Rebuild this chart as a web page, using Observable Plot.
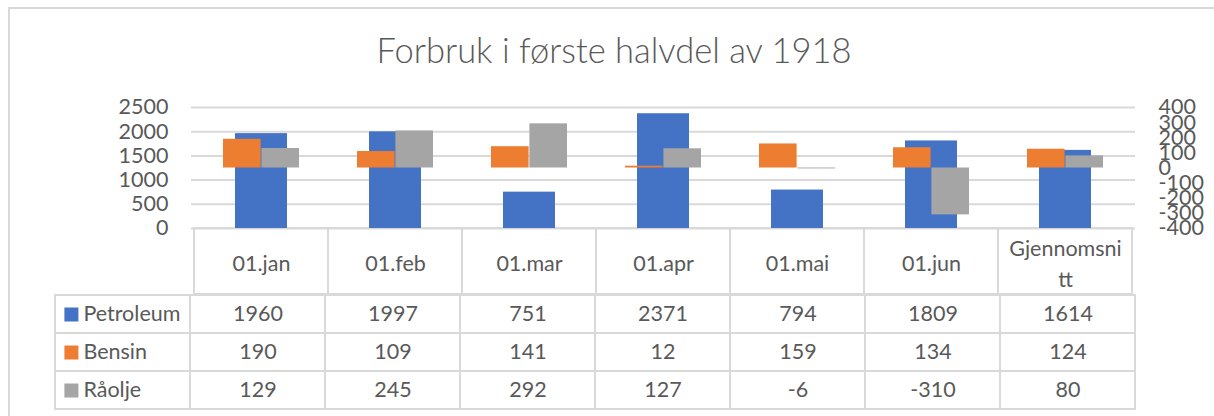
<!DOCTYPE html>
<html><head><meta charset="utf-8">
<script src="https://cdn.jsdelivr.net/npm/d3@7"></script>
<script src="https://cdn.jsdelivr.net/npm/@observablehq/plot@0.6"></script>
<style>
html,body{margin:0;padding:0;background:#fff;overflow:hidden;width:1214px;height:416px;}
#wrap{position:relative;width:1214px;height:416px;font-family:Lato,"Open Sans",sans-serif;color:#595959;}
#frame{position:absolute;left:8px;top:7px;width:1400px;height:600px;border:2px solid #d9d9d9;box-sizing:border-box;}
#title{position:absolute;left:0;width:1228px;top:33px;line-height:34px;text-align:center;font-size:34.5px;font-weight:300;white-space:nowrap;}
.layer{position:absolute;left:0;top:0;}
</style></head>
<body><div id="wrap"><div id="frame"></div><div id="title">Forbruk i første halvdel av 1918</div></div>
<script>
const categories = ["01.jan","01.feb","01.mar","01.apr","01.mai","01.jun","Gjennomsnitt"];
const headerLabels = ["01.jan","01.feb","01.mar","01.apr","01.mai","01.jun","Gjennomsni\ntt"];
const petroleum = [1960,1997,751,2371,794,1809,1614];
const bensin = [190,109,141,12,159,134,124];
const raolje = [129,245,292,127,-6,-310,80];
const seriesNames = ["Petroleum","Bensin","Råolje"];
const seriesColors = ["#4472C4","#ED7D31","#A5A5A5"];
const leftTicks = [0,500,1000,1500,2000,2500];
const rightTicks = [-400,-300,-200,-100,0,100,200,300,400];

const rows = categories.map((c,i)=>({cat:c, petroleum:petroleum[i], bensin:bensin[i], raolje:raolje[i]}));
const seriesValues = {"Petroleum":petroleum,"Bensin":bensin,"Råolje":raolje};
const cells = [];
for (const s of seriesNames) {
  cells.push({s, c:"legend", v:null});
  categories.forEach((c,i)=>cells.push({s, c, v:seriesValues[s][i]}));
}
const W = 1214, H = 416;
const baseStyle = {background:"transparent", fontFamily:"Lato, 'Open Sans', sans-serif", fontSize:"21.5px", color:"#595959", overflow:"visible"};
const wrap = document.getElementById("wrap");
function add(svg){ svg.classList.add("layer"); svg.style.position="absolute"; svg.style.left="0"; svg.style.top="0"; wrap.appendChild(svg); }

// header row of table
add(Plot.plot({
  width:W, height:H, marginTop:228, marginBottom:H-294, marginLeft:191, marginRight:W-1135,
  x:{domain:categories, padding:0, axis:null},
  style:baseStyle,
  marks:[
    Plot.cell(categories, {x:d=>d, fill:"white", stroke:"#d9d9d9", strokeWidth:2}),
    Plot.text(categories, {x:d=>d, text:(d,i)=>headerLabels[i], lineHeight:1.42, fill:"#595959"})
  ]
}));

// body of table
add(Plot.plot({
  width:W, height:H, marginTop:294, marginBottom:H-409, marginLeft:54, marginRight:W-1135,
  x:{domain:["legend", ...categories], padding:0, axis:null},
  y:{domain:seriesNames, padding:0, axis:null},
  color:{domain:seriesNames, range:seriesColors},
  style:baseStyle,
  marks:[
    Plot.cell(cells, {x:"c", y:"s", fill:"white", stroke:"#d9d9d9", strokeWidth:2}),
    Plot.text(cells.filter(d=>d.c!=="legend"), {x:"c", y:"s", text:d=>String(d.v), fill:"#595959"}),
    Plot.dot(seriesNames, {x:()=>"legend", y:d=>d, symbol:"square", r:7.9, fill:d=>d, dx:-51.6}),
    Plot.text(seriesNames, {x:()=>"legend", y:d=>d, text:d=>d, textAnchor:"start", dx:-39.6, fill:"#595959"})
  ]
}));

// primary axis: Petroleum
add(Plot.plot({
  width:W, height:240, marginTop:107, marginBottom:12, marginLeft:191, marginRight:W-1135,
  x:{domain:categories, padding:0, axis:null},
  y:{domain:[0,2500], axis:null, label:null},
  style:baseStyle,
  marks:[
    Plot.gridY(leftTicks, {stroke:"#d9d9d9", strokeOpacity:1, strokeWidth:2}),
    Plot.axisY(leftTicks, {tickSize:0, tickPadding:23, tickFormat:d=>String(d), fill:"#595959", label:null}),
    Plot.barY(rows, {x:"cat", y:"petroleum", fill:"#4472C4", insetLeft:41, insetRight:41})
  ]
}));

// secondary axis: Bensin, Råolje
add(Plot.plot({
  width:W, height:240, marginTop:107, marginBottom:12, marginLeft:191, marginRight:W-1135,
  x:{domain:categories, padding:0, axis:null},
  y:{domain:[-400,400], axis:null, label:null},
  style:baseStyle,
  marks:[
    Plot.barY(rows, {x:"cat", y:"bensin", fill:"#ED7D31", insetLeft:29, insetRight:67.4}),
    Plot.barY(rows, {x:"cat", y:"raolje", fill:"#A5A5A5", insetLeft:67.4, insetRight:29}),
    Plot.axisY(rightTicks, {anchor:"right", tickSize:0, tickPadding:23, tickFormat:d=>String(d), fill:"#595959", label:null})
  ]
}));
</script></body></html>
